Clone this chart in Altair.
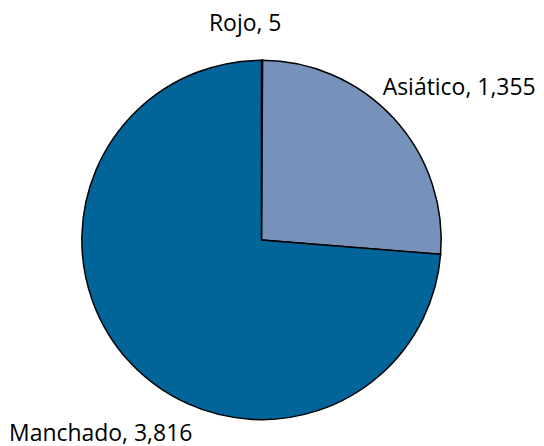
import altair as alt
import pandas as pd

categories = ["Rojo", "Asiático", "Manchado"]
values = [5, 1355, 3816]
labels = ["Rojo, 5", "Asiático, 1,355", "Manchado, 3,816"]
colors = ["#c0392b", "#7692ba", "#02659a"]

df = pd.DataFrame({"cat": categories, "val": values, "label": labels, "ord": [0, 1, 2]})

CX, CY, R = 254, 232, 180

pie = alt.Chart(df).mark_arc(outerRadius=R, stroke="black", strokeWidth=1.5).encode(
    theta=alt.Theta("val:Q", stack=True),
    order=alt.Order("ord:Q"),
    x=alt.value(CX), y=alt.value(CY),
    color=alt.Color("cat:N", scale=alt.Scale(domain=categories, range=colors), legend=None),
)

lbase = alt.Chart(df).transform_window(
    cum="sum(val)", sort=[alt.SortField("ord")]
).transform_calculate(mid="datum.cum - datum.val / 2")

def lab(cat, r, dx, dy, align):
    return lbase.transform_filter(alt.datum.cat == cat).mark_text(
        radius=r, dx=dx, dy=dy, align=align, baseline="middle",
        font="Open Sans", fontSize=23, color="black",
    ).encode(
        theta=alt.Theta("mid:Q"),
        x=alt.value(CX), y=alt.value(CY), text="label:N",
    )

chart = alt.layer(
    pie,
    lab("Rojo", 216, -17, 0, "center"),
    lab("Asiático", 200, -26, -17, "left"),
    lab("Manchado", 200, -106, 59, "left"),
).properties(width=528, height=430, padding=0).configure_view(stroke=None)

chart.save("out.html", embed_options={"renderer": "svg", "actions": False})
